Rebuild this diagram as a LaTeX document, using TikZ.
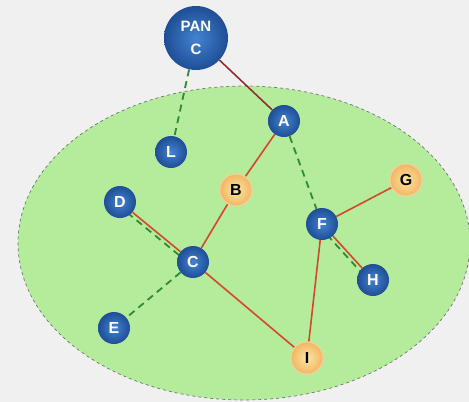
\documentclass[tikz,border=0pt]{standalone}
\usepackage{fontspec}
\setmainfont{Liberation Sans}
\usetikzlibrary{backgrounds}
\definecolor{pagebg}{HTML}{F0F0F0}
\definecolor{zonefill}{HTML}{B4EC9C}
\definecolor{zoneline}{HTML}{6E746E}
\definecolor{linkred}{HTML}{D8462A}
\definecolor{linkdark}{HTML}{8E3030}
\definecolor{linkgreen}{HTML}{2F8A34}
\definecolor{blueinner}{HTML}{4483D0}
\definecolor{blueouter}{HTML}{1E4E96}
\definecolor{oraninner}{HTML}{FBE7A0}
\definecolor{oranouter}{HTML}{F2B565}
\tikzset{
  bluenode/.style={circle, minimum size=32pt, inner sep=0pt,
    inner color=blueinner, outer color=blueouter,
    text=white, font=\bfseries\fontsize{16}{16}\selectfont},
  orangenode/.style={circle, minimum size=32pt, inner sep=0pt,
    inner color=oraninner, outer color=oranouter,
    draw=orange!40, line width=1pt,
    text=black, font=\bfseries\fontsize{16}{16}\selectfont},
  hub/.style={circle, minimum size=64pt, inner sep=0pt,
    inner color=blueinner, outer color=blueouter,
    text=white, align=center, font=\bfseries\fontsize{15}{23}\selectfont},
  solidlink/.style={draw=linkred, line width=1.6pt},
  uplink/.style={draw=linkdark, line width=1.6pt},
  dashlink/.style={draw=linkgreen, line width=1.8pt, dash pattern=on 7pt off 5pt}
}
\begin{document}
\begin{tikzpicture}[x=1pt,y=-1pt]
\useasboundingbox (0,0) rectangle (469,402);

% stations
\node[hub] (panc) at (196,38) {PAN\\C};
\node[bluenode] (a) at (284,121) {A};
\node[bluenode] (l) at (171,152) {L};
\node[orangenode] (b) at (236,190) {B};
\node[bluenode] (d) at (120,202) {D};
\node[bluenode] (c) at (193,262) {C};
\node[bluenode] (f) at (322,224) {F};
\node[orangenode] (g) at (406,180) {G};
\node[bluenode] (h) at (373,280) {H};
\node[bluenode] (e) at (114,328) {E};
\node[orangenode] (i) at (307,358) {I};

\begin{pgfonlayer}{background}
  \fill[pagebg] (0,0) rectangle (469,402);
  \draw[fill=zonefill, draw=zoneline, dashed, line width=0.7pt]
    (244,243) ellipse [x radius=226pt, y radius=157pt];

  % links
  \draw[uplink] (panc) -- (a);
  \draw[dashlink] (panc) -- (l);
  \draw[solidlink] (a) -- (b);
  \draw[dashlink] (a) -- (f);
  \draw[solidlink] (b) -- (c);
  \draw[solidlink] (d) -- (c);
  \draw[dashlink] ([xshift=-2pt,yshift=-3pt]d.center) -- ([xshift=-2pt,yshift=-3pt]c.center);
  \draw[dashlink] (c) -- (e);
  \draw[solidlink] (c) -- (i);
  \draw[solidlink] (f) -- (g);
  \draw[solidlink] (f) -- (h);
  \draw[dashlink] ([xshift=-3pt,yshift=-2pt]f.center) -- ([xshift=-3pt,yshift=-2pt]h.center);
  \draw[solidlink] (f) -- (i);
\end{pgfonlayer}
\end{tikzpicture}
\end{document}
